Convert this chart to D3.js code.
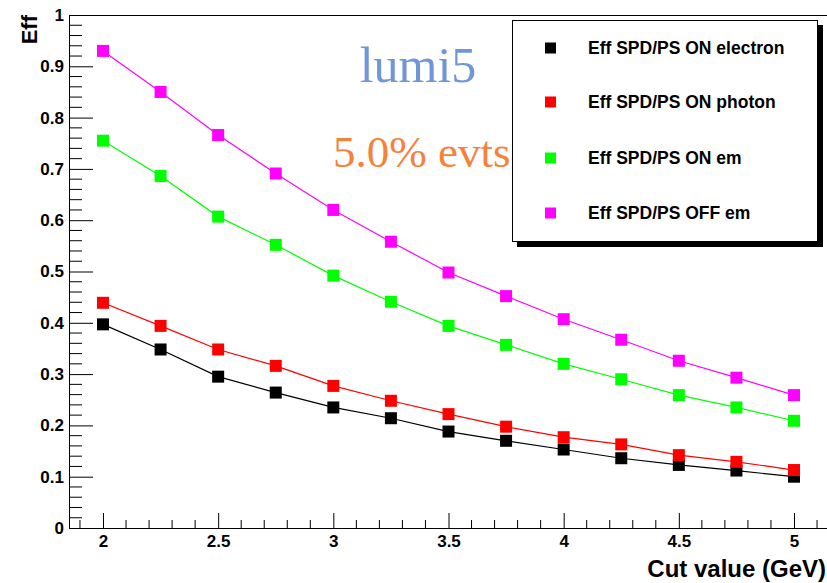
<!DOCTYPE html>
<html><head><meta charset="utf-8">
<script src="https://cdn.jsdelivr.net/npm/d3@7"></script>
<style>body{margin:0;background:#fff}svg{display:block}</style>
</head><body>
<svg id="c" width="827" height="583"></svg>
<script>
const cuts = [2, 2.25, 2.5, 2.75, 3, 3.25, 3.5, 3.75, 4, 4.25, 4.5, 4.75, 5];
const effElectron = [0.397, 0.348, 0.295, 0.264, 0.235, 0.214, 0.188, 0.170, 0.153, 0.136, 0.123, 0.112, 0.100];
const effPhoton   = [0.439, 0.394, 0.348, 0.316, 0.277, 0.248, 0.222, 0.1975, 0.177, 0.163, 0.142, 0.129, 0.113];
const effOnEm     = [0.755, 0.686, 0.607, 0.552, 0.492, 0.441, 0.394, 0.357, 0.320, 0.290, 0.259, 0.235, 0.209];
const effOffEm    = [0.930, 0.850, 0.766, 0.691, 0.620, 0.558, 0.498, 0.452, 0.407, 0.367, 0.326, 0.293, 0.259];
const seriesNames = ["Eff SPD/PS ON electron", "Eff SPD/PS ON photon", "Eff SPD/PS ON em", "Eff SPD/PS OFF em"];
const seriesColors = ["#000000", "#ff0000", "#00ff00", "#ff00ff"];
const xTickValues = [2, 2.5, 3, 3.5, 4, 4.5, 5];
const xTickLabels = ["2", "2.5", "3", "3.5", "4", "4.5", "5"];
const yTickValues = [0, 0.1, 0.2, 0.3, 0.4, 0.5, 0.6, 0.7, 0.8, 0.9, 1];
const yTickLabels = ["0", "0.1", "0.2", "0.3", "0.4", "0.5", "0.6", "0.7", "0.8", "0.9", "1"];
const xTitle = "Cut value (GeV)";
const yTitle = "Eff";
const annot1 = "lumi5";
const annot2 = "5.0% evts";

const svg = d3.select("#c");
const F = "'Liberation Sans', Arial, Helvetica, sans-serif";
const x = d3.scaleLinear().domain([2, 5]).range([103, 794]);
const y = d3.scaleLinear().domain([0, 1]).range([528, 15]);
const pL = 69, pT = 15, pB = 528, pR = 830;

svg.append("line").attr("x1", pL).attr("x2", pR).attr("y1", pT + 0.5).attr("y2", pT + 0.5).attr("stroke", "#000");

const xMinor = d3.range(19, 52).map(d => d / 10).filter(v => !xTickValues.some(t => Math.abs(t - v) < 1e-6));
const yMinor = d3.range(0, 51).map(d => d / 50).filter(v => !yTickValues.some(t => Math.abs(t - v) < 1e-6));

const gx = svg.append("g").attr("transform", `translate(0,${pB})`);
gx.call(d3.axisBottom(x).tickValues(xTickValues).tickFormat((d, i) => xTickLabels[i]).tickSizeInner(-15).tickSizeOuter(0).tickPadding(10));
gx.select(".domain").remove();
gx.append("line").attr("x1", pL).attr("x2", pR).attr("y1", 0.5).attr("y2", 0.5).attr("stroke", "#000");
gx.selectAll(".tick text").attr("font-family", F).attr("font-weight", "bold").attr("font-size", 17).attr("fill", "#000").attr("dy", "0.71em").attr("y", 7);
gx.selectAll(".minor").data(xMinor).enter().append("line")
  .attr("x1", d => x(d)).attr("x2", d => x(d)).attr("y1", 0).attr("y2", -8).attr("stroke", "#000");

const gy = svg.append("g").attr("transform", `translate(${pL},0)`);
gy.call(d3.axisLeft(y).tickValues(yTickValues).tickFormat((d, i) => yTickLabels[i]).tickSizeInner(-24).tickSizeOuter(0).tickPadding(5));
gy.select(".domain").remove();
gy.append("line").attr("x1", 0.5).attr("x2", 0.5).attr("y1", pT).attr("y2", pB).attr("stroke", "#000");
gy.selectAll(".tick text").attr("font-family", F).attr("font-weight", "bold").attr("font-size", 17).attr("fill", "#000");
gy.selectAll(".minor").data(yMinor).enter().append("line")
  .attr("x1", 0).attr("x2", 13).attr("y1", d => y(d)).attr("y2", d => y(d)).attr("stroke", "#000");

svg.append("text").attr("x", 826).attr("y", 577).attr("text-anchor", "end")
  .attr("font-family", F).attr("font-weight", "bold").attr("font-size", 24).text(xTitle);
svg.append("text").attr("transform", "translate(37,15) rotate(-90)").attr("text-anchor", "end")
  .attr("font-family", F).attr("font-weight", "bold").attr("font-size", 22).text(yTitle);

svg.append("text").attr("x", 418).attr("y", 82).attr("text-anchor", "middle")
  .attr("font-family", "'Liberation Serif', 'DejaVu Serif', serif").attr("font-size", 50).attr("fill", "#7096d8").text(annot1);
svg.append("text").attr("x", 333).attr("y", 167)
  .attr("font-family", "'Liberation Serif', 'DejaVu Serif', serif").attr("font-size", 45).attr("fill", "#f5823a").text(annot2);

const allSeries = [effElectron, effPhoton, effOnEm, effOffEm];
const line = d3.line().x((d, i) => x(cuts[i])).y(d => y(d));
allSeries.forEach((vals, si) => {
  svg.append("path").attr("d", line(vals)).attr("fill", "none").attr("stroke", seriesColors[si]).attr("stroke-width", 1.2);
});
allSeries.forEach((vals, si) => {
  svg.append("g").selectAll("rect").data(vals).enter().append("rect")
    .attr("x", (d, i) => x(cuts[i]) - 6).attr("y", d => y(d) - 6).attr("width", 12).attr("height", 12)
    .attr("fill", seriesColors[si]);
});

const lg = svg.append("g");
lg.append("rect").attr("x", 517).attr("y", 25).attr("width", 306).attr("height", 222).attr("fill", "#000");
lg.append("rect").attr("x", 512.5).attr("y", 20.5).attr("width", 305).attr("height", 221).attr("fill", "#fff").attr("stroke", "#000");
const rowY = [48, 102, 158, 213];
seriesNames.forEach((name, i) => {
  lg.append("rect").attr("x", 545).attr("y", rowY[i] - 5.5).attr("width", 11).attr("height", 11).attr("fill", seriesColors[i]);
  lg.append("text").attr("x", 588).attr("y", rowY[i] + 6).attr("font-family", F).attr("font-weight", "bold")
    .attr("font-size", 17.5).attr("fill", "#000").text(name);
});
</script>
</body></html>
